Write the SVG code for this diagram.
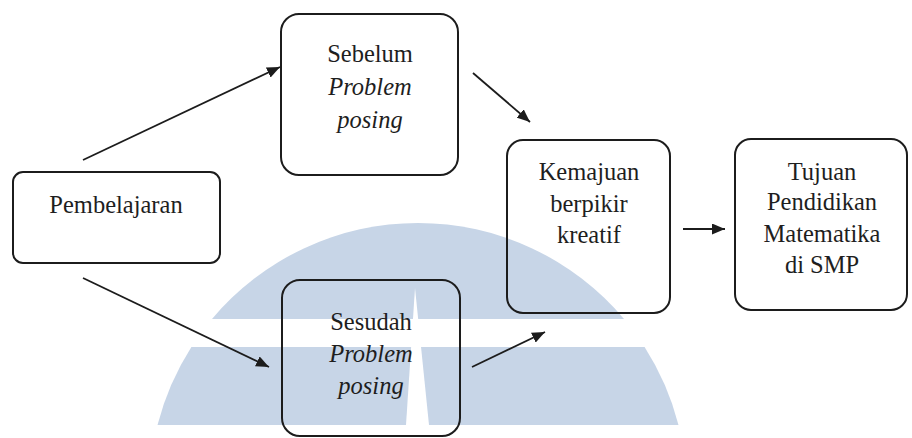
<svg xmlns="http://www.w3.org/2000/svg" width="912" height="438" viewBox="0 0 912 438">
<style>
.box{fill:none;stroke:#1c1c1c;stroke-width:2}
.t{font-family:"Liberation Serif","Times New Roman",serif;font-size:24.5px;fill:#1e1e1e;text-anchor:middle}
.i{font-style:italic}
.c{stroke:#1c1c1c;stroke-width:1.8;fill:none;marker-end:url(#ah)}
.wm{fill:#c7d5e7}
</style>
<defs>
<marker id="ah" viewBox="0 0 13 11" refX="13" refY="5.5" markerWidth="13" markerHeight="11" markerUnits="userSpaceOnUse" orient="auto">
<path d="M0,0 L13,5.5 L0,11 Z" fill="#1c1c1c"/>
</marker>
</defs>
<rect width="912" height="438" fill="#ffffff"/>
<g id="watermark">
<path class="wm" d="M212,319 A269,269 0 0 1 624,319 Z"/>
<path class="wm" d="M191.4,347 L644.6,347 A269,269 0 0 1 678.5,425 L157.5,425 A269,269 0 0 1 191.4,347 Z"/>
<polygon points="415,288 406,425 429,425" fill="#ffffff"/>
</g>
<g id="connectors">
<line class="c" x1="83" y1="160" x2="280" y2="67"/>
<line class="c" x1="83" y1="278" x2="269" y2="367"/>
<line class="c" x1="473" y1="73" x2="530" y2="122"/>
<line class="c" x1="472" y1="367" x2="545" y2="332"/>
<line class="c" x1="683" y1="229" x2="725" y2="229"/>
</g>
<g id="pembelajaran">
<rect class="box" x="13" y="172" width="207" height="91" rx="10"/>
<text class="t" x="116" y="213">Pembelajaran</text>
</g>
<g id="sebelum">
<rect class="box" x="281" y="14" width="177" height="161" rx="18"/>
<text class="t" x="370" y="62">Sebelum</text>
<text class="t i" x="370" y="95">Problem</text>
<text class="t i" x="370" y="128">posing</text>
</g>
<g id="sesudah">
<rect class="box" x="282" y="280" width="178" height="156" rx="18"/>
<text class="t" x="371" y="330">Sesudah</text>
<text class="t i" x="371" y="362">Problem</text>
<text class="t i" x="371" y="394">posing</text>
</g>
<g id="kemajuan">
<rect class="box" x="507" y="140" width="163" height="173" rx="16"/>
<text class="t" x="589" y="180">Kemajuan</text>
<text class="t" x="589" y="212">berpikir</text>
<text class="t" x="589" y="243">kreatif</text>
</g>
<g id="tujuan">
<rect class="box" x="735" y="139" width="172" height="171" rx="16"/>
<text class="t" x="822" y="180">Tujuan</text>
<text class="t" x="822" y="210">Pendidikan</text>
<text class="t" x="822" y="242">Matematika</text>
<text class="t" x="822" y="273">di SMP</text>
</g>
</svg>
